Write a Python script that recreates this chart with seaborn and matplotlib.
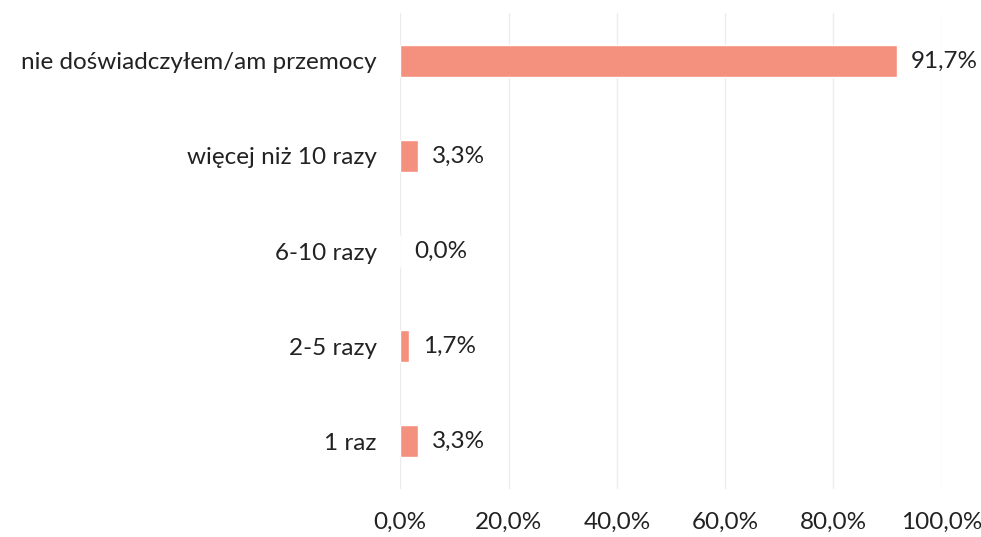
import matplotlib
matplotlib.use("Agg")
import matplotlib.pyplot as plt
import seaborn as sns
import pandas as pd

categories = ["nie doświadczyłem/am przemocy", "więcej niż 10 razy", "6-10 razy", "2-5 razy", "1 raz"]
values = [91.7, 3.3, 0.0, 1.7, 3.3]
tick_values = [0, 20, 40, 60, 80, 100]
tick_labels = ["0,0%", "20,0%", "40,0%", "60,0%", "80,0%", "100,0%"]

df = pd.DataFrame({"kategoria": categories, "procent": values})

sns.set_style("white")
plt.rcParams["font.family"] = ["Lato", "DejaVu Sans"]

fig = plt.figure(figsize=(9.81, 5.37), dpi=100)
ax = fig.add_axes([0.408, 0.09, 0.552, 0.885])

sns.barplot(data=df, x="procent", y="kategoria", color="#F4907E", width=0.34,
            saturation=1, ax=ax, zorder=2)

ax.set_xlim(0, 100)
ax.set_xticks(tick_values)
ax.set_xticklabels(tick_labels, fontsize=17.5, color="#222222")
ax.tick_params(axis="y", labelsize=17.5, colors="#222222", length=0, pad=17)
ax.tick_params(axis="x", length=0, pad=17)
ax.set_xlabel("")
ax.set_ylabel("")
ax.grid(axis="x", color="#ececec", linewidth=1, zorder=0)
for s in ax.spines.values():
    s.set_visible(False)

for i, v in enumerate(values):
    ax.text(v + 2.5, i, f"{v:.1f}%".replace(".", ","), va="center", ha="left",
            fontsize=17.5, color="#222222")

fig.savefig("out.png", dpi=100)
